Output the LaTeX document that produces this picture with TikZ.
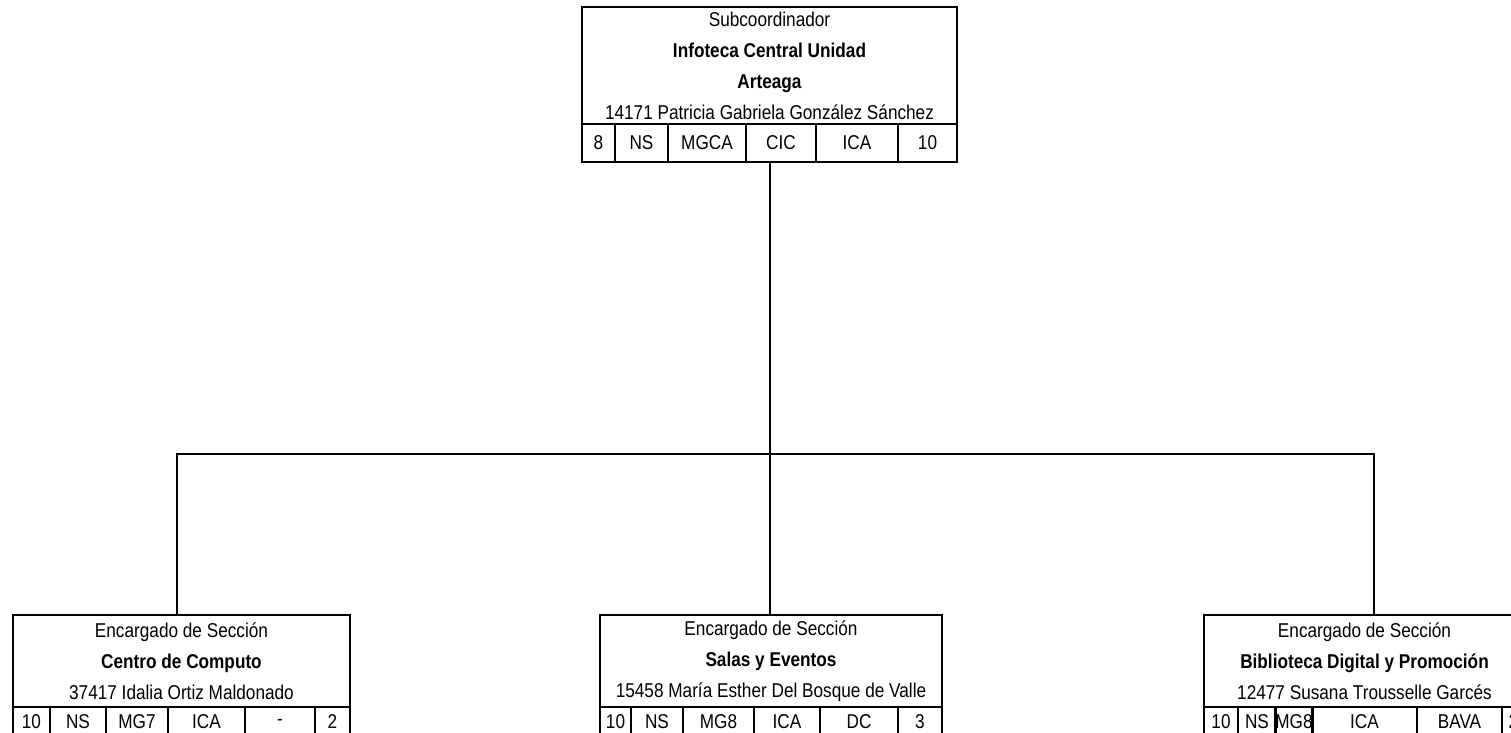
\documentclass[tikz,border=0pt]{standalone}
\usepackage{fontspec}
\setmainfont[FakeStretch=0.86]{Liberation Sans}
\usetikzlibrary{positioning}

\tikzset{
  head/.style={inner sep=0pt,outer sep=0pt,align=center,font=\fontsize{20}{31}\selectfont},
  cell/.style={draw,line width=2pt,inner sep=0pt,outer sep=0pt,minimum height=38,font=\fontsize{20}{22}\selectfont},
  frame/.style={line width=2.8pt},
  link/.style={line width=2pt}
}

\begin{document}
\begin{tikzpicture}[x=1pt,y=-1pt]
  \useasboundingbox (0,0) rectangle (1511,732);

  % subcoordinador
  \node[head,minimum width=375,minimum height=117] (sub) at (769.5,65.5)
    {Subcoordinador\\\textbf{Infoteca Central Unidad}\\\textbf{Arteaga}\\14171 Patricia Gabriela González Sánchez};
  \foreach \a/\b/\lab [count=\i] in {582/615/8,615/668/NS,668/746/MGCA,746/816/CIC,816/898/ICA,898/957/10}
    \node[cell,minimum width=\b-\a] (sub\i) at ({(\a+\b)/2},143) {\lab};
  \draw[frame] (sub.north west) rectangle (sub6.south east);

  % centro de computo
  \node[head,minimum width=337,minimum height=92] (cc) at (181.5,661)
    {Encargado de Sección\\\textbf{Centro de Computo}\\37417 Idalia Ortiz Maldonado};
  \foreach \a/\b/\lab [count=\i] in {13/50/10,50/106/NS,106/168/MG7,168/245/ICA,245/315/-,315/350/2}
    \node[cell,minimum width=\b-\a,minimum height=30] (cc\i) at ({(\a+\b)/2},722) {\lab};
  \draw[frame] (cc.north west) rectangle (cc6.south east);

  % salas y eventos
  \node[head,minimum width=342,minimum height=92] (sal) at (771,661)
    {Encargado de Sección\\\textbf{Salas y Eventos}\\15458 María Esther Del Bosque de Valle};
  \foreach \a/\b/\lab [count=\i] in {600/631/10,631/683/NS,683/754/MG8,754/820/ICA,820/898/DC,898/942/3}
    \node[cell,minimum width=\b-\a,minimum height=30] (sal\i) at ({(\a+\b)/2},722) {\lab};
  \draw[frame] (sal.north west) rectangle (sal6.south east);

  % biblioteca digital
  \node[head,minimum width=321,minimum height=92] (bdp) at (1364.5,661)
    {Encargado de Sección\\\textbf{Biblioteca Digital y Promoción}\\12477 Susana Trousselle Garcés};
  \foreach \a/\b/\lab [count=\i] in {1204/1238/10,1238/1276/NS,1276/1312/MG8,1312/1417/ICA,1417/1502/BAVA,1502/1525/2}
    \node[cell,minimum width=\b-\a,minimum height=30] (bdp\i) at ({(\a+\b)/2},722) {\lab};
  \draw[frame] (bdp.north west) rectangle (bdp6.south east);

  % connectors
  \coordinate (bus) at (0,454);
  \coordinate (ccin) at ([xshift=-4.5]cc.north);
  \coordinate (bdpin) at ([xshift=9.5]bdp.north);
  \draw[link] (sub.south |- sub4.south) -- (sub.south |- sal.north);
  \draw[link] (ccin) -- (ccin |- bus) -- (bdpin |- bus) -- (bdpin);
\end{tikzpicture}
\end{document}
